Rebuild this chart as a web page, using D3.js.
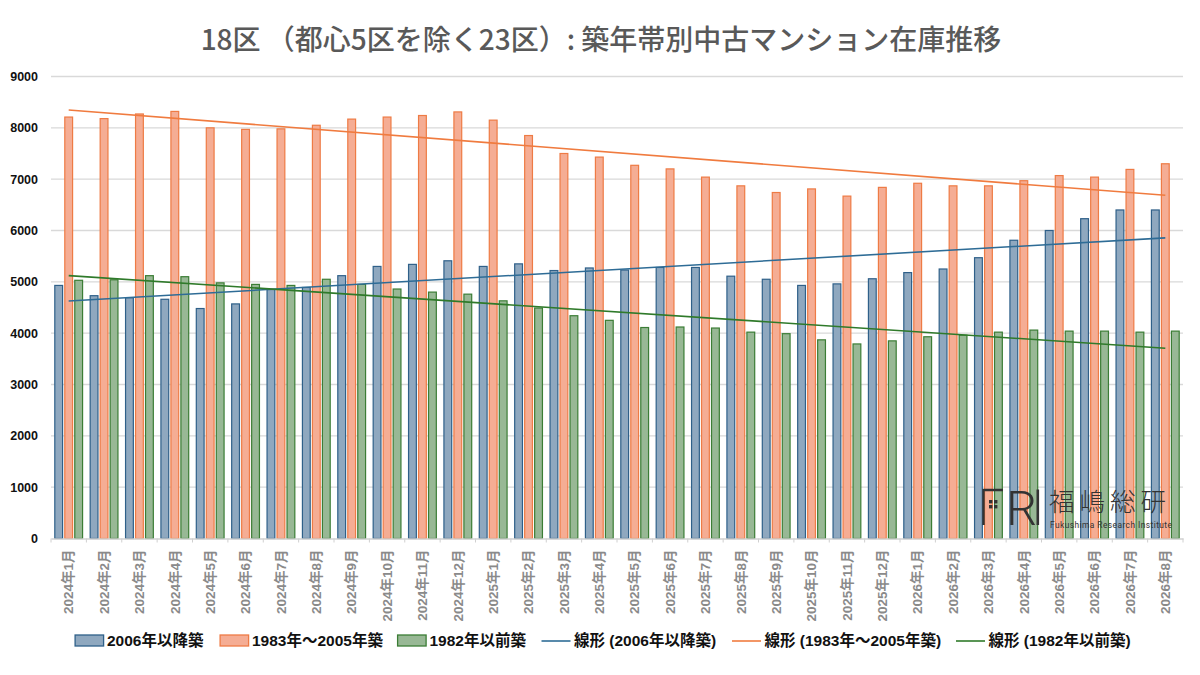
<!DOCTYPE html>
<html><head><meta charset="utf-8">
<script src="https://cdn.jsdelivr.net/npm/d3@7"></script>
<style>
html,body{margin:0;padding:0;background:#fff;}
svg{display:block;}
</style></head>
<body>
<svg id="chart" width="1200" height="675"></svg>
<script>
const months = ["2024年1月","2024年2月","2024年3月","2024年4月","2024年5月","2024年6月","2024年7月","2024年8月","2024年9月","2024年10月","2024年11月","2024年12月",
"2025年1月","2025年2月","2025年3月","2025年4月","2025年5月","2025年6月","2025年7月","2025年8月","2025年9月","2025年10月","2025年11月","2025年12月",
"2026年1月","2026年2月","2026年3月","2026年4月","2026年5月","2026年6月","2026年7月","2026年8月"];
const seriesNames = ["2006年以降築","1983年～2005年築","1982年以前築"];
const trendNames = ["線形 (2006年以降築)","線形 (1983年～2005年築)","線形 (1982年以前築)"];
const after2006 = [4930,4730,4690,4660,4480,4570,4850,4890,5120,5300,5340,5410,5300,5350,5220,5270,5230,5280,5280,5110,5050,4930,4960,5060,5180,5250,5470,5810,6000,6230,6400,6400];
const y1983to2005 = [8210,8180,8270,8320,8000,7970,7980,8050,8170,8210,8240,8310,8150,7850,7500,7430,7270,7200,7040,6870,6740,6810,6670,6840,6920,6870,6870,6970,7070,7040,7190,7300];
const before1982 = [5030,5040,5120,5100,4980,4950,4930,5050,4950,4860,4800,4760,4630,4490,4340,4250,4110,4120,4100,4020,3990,3870,3790,3850,3930,3960,4020,4060,4040,4040,4020,4040];
const yTicks = [0,1000,2000,3000,4000,5000,6000,7000,8000,9000];
const title = "18区 （都心5区を除く23区）: 築年帯別中古マンション在庫推移";

const seriesData = [after2006, y1983to2005, before1982];
const fills = ["#8fa8bf","#f5ad94","#98b895"];
const strokes = ["#2f6089","#ee7b45","#3b7d35"];
const trendColors = ["#2e6c96","#f07b3f","#2f7a2a"];

const svg = d3.select("#chart");
const L = 51, R = 1183, T = 76.5, B = 538.5;
const x0 = d3.scaleBand().domain(months).range([L, R]).padding(0);
const x1 = d3.scaleBand().domain(d3.range(3)).range([3.2, x0.bandwidth() - 3.2]).paddingInner(0.1);
const y = d3.scaleLinear().domain([0, 9000]).range([B, T]);
const numFont = "'Liberation Sans', Arial, 'Noto Sans CJK JP', sans-serif";

// title
svg.append("text").attr("x", 601).attr("y", 50).attr("text-anchor", "middle")
  .attr("font-family", "'Noto Sans CJK JP', sans-serif").attr("font-size", 28)
  .attr("font-weight", 500).attr("fill", "#595959").text(title);

// gridlines
svg.append("g").selectAll("line").data(yTicks.filter(d => d > 0)).join("line")
  .attr("x1", L).attr("x2", R).attr("y1", d => y(d)).attr("y2", d => y(d))
  .attr("stroke", "#d9d9d9").attr("stroke-width", 1.3);

// y axis labels
const yAxis = d3.axisLeft(y).tickValues(yTicks).tickFormat(d3.format("d")).tickSize(0).tickPadding(0);
const gy = svg.append("g").attr("transform", "translate(38,0)").call(yAxis);
gy.select(".domain").remove();
gy.selectAll("text").attr("font-family", numFont).attr("font-size", 12.5)
  .attr("font-weight", "bold").attr("fill", "#111");

// bars
const gBars = svg.append("g");
months.forEach((m, i) => {
  seriesData.forEach((arr, s) => {
    const bw = x1.bandwidth();
    gBars.append("rect")
      .attr("x", x0(m) + x1(s) + 0.6).attr("y", y(arr[i]))
      .attr("width", bw - 1.2).attr("height", y(0) - y(arr[i]))
      .attr("fill", fills[s]).attr("stroke", strokes[s]).attr("stroke-width", 1.2);
  });
});

// x axis
const xAxis = d3.axisBottom(x0).tickSize(0).tickFormat("");
const gx = svg.append("g").attr("transform", `translate(0,${B})`).call(xAxis);
gx.select(".domain").attr("stroke", "#d0d0d0").attr("stroke-width", 1.3);
const bounds = months.map(m => x0(m)).concat([R]);
gx.append("g").selectAll("line").data(bounds).join("line")
  .attr("x1", d => d).attr("x2", d => d).attr("y1", 0).attr("y2", 4)
  .attr("stroke", "#d0d0d0").attr("stroke-width", 1);
gx.append("g").selectAll("text").data(months).join("text")
  .attr("transform", d => `translate(${x0(d) + x0.bandwidth() / 2},11) rotate(-90)`)
  .attr("text-anchor", "end").attr("dy", "0.35em")
  .attr("font-family", numFont).attr("font-size", 13.5).attr("font-weight", "bold")
  .attr("fill", "#8a8a8a").text(d => d);

// logo
const logo = svg.append("g").attr("fill", "#333").attr("stroke", "#333");
logo.append("path").attr("d", "M983.5,525 V490 H1003").attr("fill", "none").attr("stroke-width", 2.4);
[[989,500],[994,500],[989,505],[994,505]].forEach(p => logo.append("rect").attr("x", p[0]).attr("y", p[1]).attr("width", 3.4).attr("height", 3.4).attr("stroke", "none"));
logo.append("text").attr("x", 1006).attr("y", 525).attr("font-family", "Roboto, 'Liberation Sans', sans-serif")
  .attr("font-weight", 300).attr("font-size", 49).attr("stroke", "none").text("R");
logo.append("rect").attr("x", 1036.5).attr("y", 489.5).attr("width", 2.6).attr("height", 35.5).attr("stroke", "none");
logo.append("text").attr("x", 1049).attr("y", 511).attr("font-family", "'Noto Sans CJK JP', sans-serif")
  .attr("font-weight", 300).attr("font-size", 25.5).attr("letter-spacing", 5).attr("stroke", "none").text("福嶋総研");
logo.append("text").attr("x", 1050).attr("y", 527.5).attr("font-family", "Roboto, 'Liberation Sans', sans-serif")
  .attr("font-size", 8.4).attr("textLength", 122).attr("stroke", "none").text("Fukushima Research Institute");

// trendlines (least-squares on category index, as Excel does)
const centers = months.map(m => x0(m) + x0.bandwidth() / 2);
seriesData.forEach((arr, s) => {
  const n = arr.length, xs = d3.range(1, n + 1);
  const mx = d3.mean(xs), my = d3.mean(arr);
  const slope = d3.sum(xs, (xv, k) => (xv - mx) * (arr[k] - my)) / d3.sum(xs, xv => (xv - mx) ** 2);
  const icpt = my - slope * mx;
  const line = d3.line().x(d => d[0]).y(d => y(d[1]));
  svg.append("path")
    .datum([[centers[0], icpt + slope * 1], [centers[n - 1], icpt + slope * n]])
    .attr("d", line).attr("fill", "none").attr("stroke", trendColors[s]).attr("stroke-width", 1.6);
});

// legend
const lg = svg.append("g").attr("font-family", numFont).attr("font-size", 15.5).attr("font-weight", "bold").attr("fill", "#111");
const ly = 641;
const boxX = [74.5, 219.5, 397];
seriesNames.forEach((nm, s) => {
  lg.append("rect").attr("x", boxX[s] + 0.6).attr("y", ly - 6).attr("width", 28.5).attr("height", 11)
    .attr("fill", fills[s]).attr("stroke", strokes[s]).attr("stroke-width", 1.3);
  lg.append("text").attr("x", boxX[s] + 32.5).attr("y", ly).attr("dy", "0.35em").text(nm);
});
const lineX = [541.5, 732, 956];
trendNames.forEach((nm, s) => {
  lg.append("line").attr("x1", lineX[s]).attr("x2", lineX[s] + 29).attr("y1", ly).attr("y2", ly)
    .attr("stroke", trendColors[s]).attr("stroke-width", 1.6);
  lg.append("text").attr("x", lineX[s] + 32.5).attr("y", ly).attr("dy", "0.35em").text(nm);
});
</script>
</body></html>
